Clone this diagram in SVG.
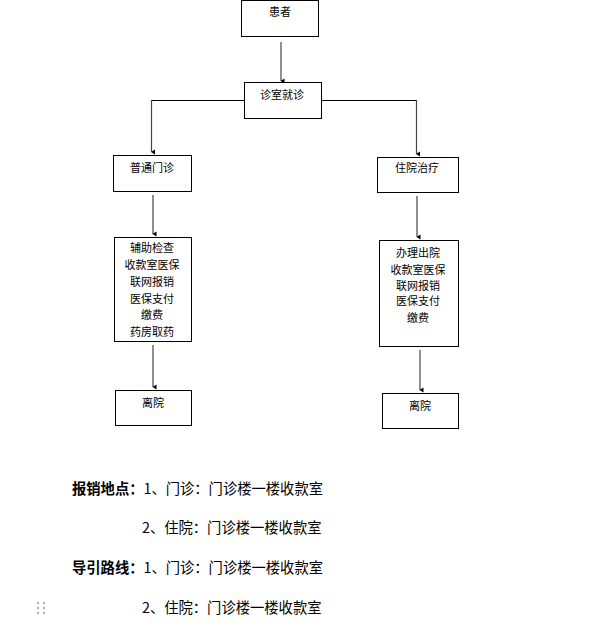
<svg xmlns="http://www.w3.org/2000/svg" width="593" height="643" viewBox="0 0 593 643">
<style>
.box{fill:#fff;stroke:#000;stroke-width:1}
.t{font-family:"Noto Sans CJK SC","Liberation Sans",sans-serif;font-size:11px;fill:#000;text-anchor:middle}
.c{fill:none;stroke:#000;stroke-width:1}
.a{fill:none;stroke:#444;stroke-width:1.2;marker-end:url(#ah)}
.b{font-family:"Noto Sans CJK SC","Liberation Sans",sans-serif;font-size:14.3px;fill:#000}
.dot{fill:#aaa}
</style>
<defs>
<marker id="ah" markerWidth="6" markerHeight="6" refX="3" refY="5" orient="auto" markerUnits="userSpaceOnUse" viewBox="0 0 6 6">
<path d="M0.5,1.5 L5.5,1.5 L3,5.5 Z" fill="#000"/>
</marker>
</defs>
<rect width="593" height="643" fill="#fff"/>
<g id="connectors">
<line class="a" x1="281" y1="42" x2="281" y2="81"/>
<polyline class="c" points="244.5,100.5 151.5,100.5"/>
<line class="a" x1="151.5" y1="100" x2="151.5" y2="152"/>
<polyline class="c" points="321.5,100.5 416.5,100.5"/>
<line class="a" x1="416.5" y1="100" x2="416.5" y2="154"/>
<line class="a" x1="153" y1="195" x2="153" y2="234"/>
<line class="a" x1="417" y1="196" x2="417" y2="237"/>
<line class="a" x1="153" y1="345" x2="153" y2="387"/>
<line class="a" x1="420" y1="350" x2="420" y2="390"/>
</g>
<g id="n-patient"><rect class="box" x="241.5" y="0.5" width="77" height="36"/><text class="t" x="280" y="16">患者</text></g>
<g id="n-clinic"><rect class="box" x="244.5" y="82.5" width="77" height="36"/><text class="t" x="282" y="99">诊室就诊</text></g>
<g id="n-outpatient"><rect class="box" x="113.5" y="155.5" width="78" height="36"/><text class="t" x="152" y="172">普通门诊</text></g>
<g id="n-inpatient"><rect class="box" x="377.5" y="157.5" width="81" height="35"/><text class="t" x="417" y="172">住院治疗</text></g>
<g id="n-out-steps"><rect class="box" x="114.5" y="237.5" width="77" height="104"/>
<text class="t" x="152"><tspan x="152" y="252">辅助检查</tspan><tspan x="152" y="269">收款室医保</tspan><tspan x="152" y="286">联网报销</tspan><tspan x="152" y="303">医保支付</tspan><tspan x="152" y="319">缴费</tspan><tspan x="152" y="336">药房取药</tspan></text></g>
<g id="n-in-steps"><rect class="box" x="379.5" y="240.5" width="79" height="106"/>
<text class="t"><tspan x="418" y="257">办理出院</tspan><tspan x="418" y="274">收款室医保</tspan><tspan x="418" y="290">联网报销</tspan><tspan x="418" y="305">医保支付</tspan><tspan x="418" y="322">缴费</tspan></text></g>
<g id="n-leave1"><rect class="box" x="115.5" y="390.5" width="76" height="35"/><text class="t" x="153" y="407">离院</text></g>
<g id="n-leave2"><rect class="box" x="382.5" y="393.5" width="76" height="35"/><text class="t" x="420" y="410">离院</text></g>
<g id="notes">
<text class="b" x="72" y="494"><tspan font-weight="bold">报销地点：</tspan>1、门诊：门诊楼一楼收款室</text>
<text class="b" x="142" y="533">2、住院：门诊楼一楼收款室</text>
<text class="b" x="72" y="573"><tspan font-weight="bold">导引路线：</tspan>1、门诊：门诊楼一楼收款室</text>
<text class="b" x="142" y="613">2、住院：门诊楼一楼收款室</text>
<rect class="dot" x="37" y="602" width="2" height="2"/><rect class="dot" x="43" y="602" width="2" height="2"/>
<rect class="dot" x="37" y="607" width="2" height="2"/><rect class="dot" x="43" y="607" width="2" height="2"/>
<rect class="dot" x="37" y="612" width="2" height="2"/><rect class="dot" x="43" y="612" width="2" height="2"/>
</g>
</svg>
